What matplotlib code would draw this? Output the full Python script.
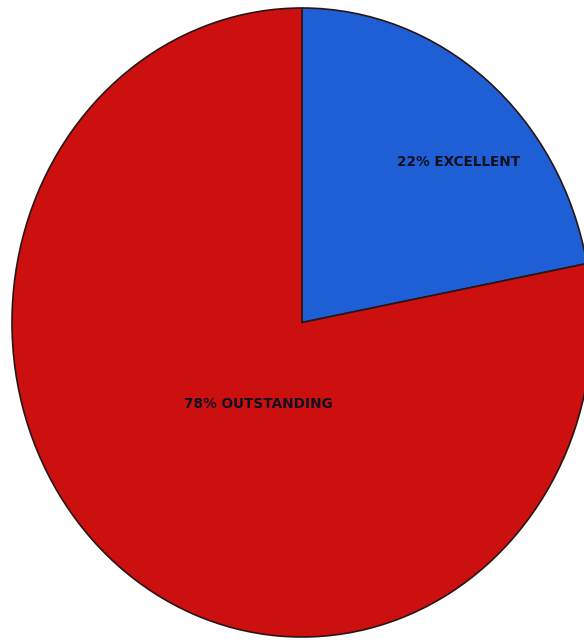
import matplotlib.pyplot as plt

# share of ratings
labels = ['22% EXCELLENT', '78% OUTSTANDING']
values = [22, 78]
colors = ['#1f5fd6', '#cc1010']
label_pos = [(0.54, 0.51), (-0.15, -0.26)]

fig = plt.figure(figsize=(5.84, 6.41), dpi=100)
ax = fig.add_axes([12 / 584, 4 / 641, 580 / 584, 629 / 641])

wedges, _ = ax.pie(values, colors=colors, startangle=90, counterclock=False,
                   wedgeprops=dict(edgecolor='#2a1515', linewidth=1.2))
for w in wedges:
    w.set_clip_on(False)
ax.set_aspect('auto')
ax.set_xlim(-1, 1)
ax.set_ylim(-1, 1)
ax.axis('off')

for text, (x, y) in zip(labels, label_pos):
    ax.text(x, y, text, ha='center', va='center', fontsize=9.8, fontweight='bold',
            color='#101020', family=['DejaVu Sans Condensed', 'DejaVu Sans'])

fig.savefig('out.png', dpi=100)
